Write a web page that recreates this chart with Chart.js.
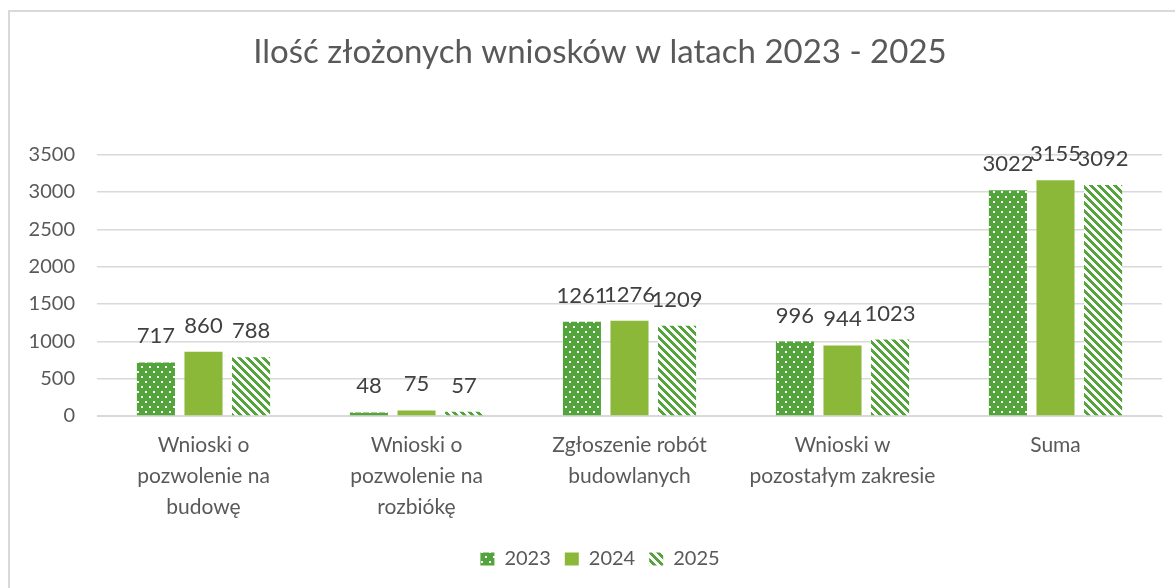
<!DOCTYPE html>
<html>
<head>
<meta charset="utf-8">
<script src="https://cdn.jsdelivr.net/npm/chart.js@4/dist/chart.umd.min.js"></script>
<style>
  html, body { margin: 0; padding: 0; background: #fff; }
  #wrap { width: 1175px; height: 588px; }
</style>
</head>
<body>
<div id="wrap"><canvas id="c" width="1175" height="588"></canvas></div>
<script>
const categories = [
  ["Wnioski o", "pozwolenie na", "budowę"],
  ["Wnioski o", "pozwolenie na", "rozbiókę"],
  ["Zgłoszenie robót", "budowlanych"],
  ["Wnioski w", "pozostałym zakresie"],
  "Suma"
];
const seriesNames = ["2023", "2024", "2025"];
const values2023 = [717, 48, 1261, 996, 3022];
const values2024 = [860, 75, 1276, 944, 3155];
const values2025 = [788, 57, 1209, 1023, 3092];
const yTicks = [0, 500, 1000, 1500, 2000, 2500, 3000, 3500];
const titleText = "Ilość złożonych wniosków w latach 2023 - 2025";

const FONT = "Lato, 'Liberation Sans', sans-serif";

function dotPattern() {
  const c = document.createElement('canvas');
  c.width = 8; c.height = 10;
  const x = c.getContext('2d');
  x.fillStyle = '#53A43B';
  x.fillRect(0, 0, 8, 10);
  x.fillStyle = '#ffffff';
  x.fillRect(1, 1, 2, 2);
  x.fillRect(5, 6, 2, 2);
  return x.createPattern(c, 'repeat');
}
function stripePattern() {
  const c = document.createElement('canvas');
  c.width = 8; c.height = 8;
  const x = c.getContext('2d');
  x.fillStyle = '#ffffff';
  x.fillRect(0, 0, 8, 8);
  x.fillStyle = '#53A43B';
  for (let py = 0; py < 8; py++) {
    for (let px = 0; px < 8; px++) {
      if (((px - py) % 8 + 8) % 8 < 4) x.fillRect(px, py, 1, 1);
    }
  }
  return x.createPattern(c, 'repeat');
}

const frame = {
  id: 'frame',
  beforeDraw(chart) {
    const ctx = chart.ctx;
    ctx.save();
    ctx.fillStyle = '#ffffff';
    ctx.fillRect(0, 0, chart.width, chart.height);
    ctx.strokeStyle = '#D9D9D9';
    ctx.lineWidth = 2;
    ctx.strokeRect(9, 11, 1300, 700);
    ctx.restore();
  }
};

const valueLabels = {
  id: 'valueLabels',
  afterDatasetsDraw(chart) {
    const ctx = chart.ctx;
    ctx.save();
    ctx.font = "22px " + FONT;
    ctx.fillStyle = '#404040';
    ctx.textAlign = 'center';
    ctx.textBaseline = 'alphabetic';
    chart.data.datasets.forEach((ds, i) => {
      const meta = chart.getDatasetMeta(i);
      meta.data.forEach((bar, j) => {
        ctx.fillText(String(ds.data[j]), bar.x, bar.y - 19);
      });
    });
    ctx.restore();
  }
};

new Chart(document.getElementById('c'), {
  type: 'bar',
  data: {
    labels: categories,
    datasets: [
      { label: seriesNames[0], data: values2023, backgroundColor: dotPattern() },
      { label: seriesNames[1], data: values2024, backgroundColor: '#8CB83A' },
      { label: seriesNames[2], data: values2025, backgroundColor: stripePattern() }
    ]
  },
  options: {
    responsive: false,
    animation: false,
    devicePixelRatio: 1,
    datasets: { bar: { categoryPercentage: 0.67, barPercentage: 0.8 } },
    layout: { padding: { left: 25, right: 0, top: 0, bottom: 9 } },
    plugins: {
      title: {
        display: true,
        text: titleText,
        color: '#595959',
        font: { family: FONT, size: 33, weight: 'normal', lineHeight: 1.2 },
        padding: { top: 33, bottom: 82 }
      },
      legend: {
        position: 'bottom',
        labels: {
          color: '#595959',
          font: { family: FONT, size: 20 },
          boxWidth: 14,
          boxHeight: 13,
          padding: 14
        }
      },
      tooltip: { enabled: false }
    },
    scales: {
      x: {
        grid: { display: false, drawTicks: false },
        border: { display: true, color: '#D9D9D9' },
        ticks: {
          color: '#595959',
          font: { family: FONT, size: 21, lineHeight: 1.48 },
          padding: 14,
          maxRotation: 0,
          autoSkip: false
        },
        afterFit(scale) { scale.height = 119; }
      },
      y: {
        min: 0,
        max: 3500,
        afterBuildTicks(scale) { scale.ticks = yTicks.map(v => ({ value: v })); },
        grid: { color: '#D9D9D9', lineWidth: 1.5, drawTicks: false },
        border: { display: false },
        ticks: {
          color: '#595959',
          font: { family: FONT, size: 20 },
          padding: 22,
          callback: (v) => String(v)
        },
        afterFit(scale) { scale.width = 72; }
      },
      yRight: {
        type: 'linear',
        position: 'right',
        display: true,
        grid: { display: false, drawOnChartArea: false, drawTicks: false },
        border: { display: false },
        ticks: { display: false },
        afterFit(scale) { scale.width = 13; }
      }
    }
  },
  plugins: [frame, valueLabels]
});
</script>
</body>
</html>
